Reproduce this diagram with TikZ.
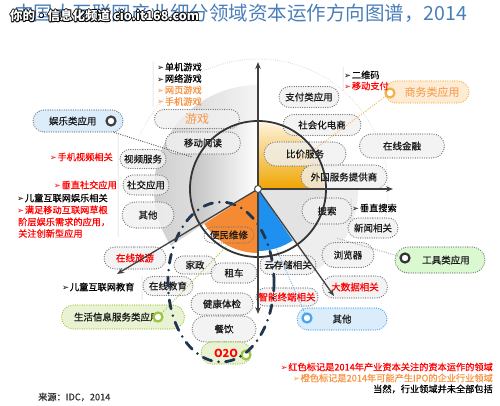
\documentclass[tikz,border=0pt]{standalone}
\usepackage{fontspec}
\usepackage{graphicx}
\setmainfont{Noto Sans CJK SC}
\newfontfamily\hv{Noto Sans CJK SC}[FakeBold=0.6]
\newfontfamily\dvs{DejaVu Sans}
\usetikzlibrary{shapes.misc,arrows.meta}
\definecolor{ttl}{HTML}{4A7EBB}
\definecolor{org}{HTML}{F79646}
\definecolor{rd}{HTML}{FF0000}
\definecolor{dotg}{HTML}{777777}
\definecolor{navy}{HTML}{1F3550}
\definecolor{blu}{HTML}{1E90F0}
\definecolor{orsec}{HTML}{F68A33}
\definecolor{gld}{HTML}{F0A500}
\definecolor{grn}{HTML}{9CC63B}
\definecolor{lgrn}{HTML}{E4F1C8}
\definecolor{lblu}{HTML}{D3E8FA}
\definecolor{lorg}{HTML}{FDE8C8}
\definecolor{borg}{HTML}{F5B24A}
\definecolor{bblu}{HTML}{48A4F0}
\newcommand\arr{{\dvs\scalebox{0.9}{➢}}\hspace{0.8pt}}
\newcommand\wmk[1]{%
\rlap{\color{black}\kern-0.8pt#1}%
\rlap{\color{black}\kern0.8pt#1}%
\rlap{\color{black}\raisebox{0.8pt}{#1}}%
\rlap{\color{black}\raisebox{-0.8pt}{#1}}%
\rlap{\color{black}\kern-0.6pt\raisebox{0.6pt}{#1}}%
\rlap{\color{black}\kern0.6pt\raisebox{0.6pt}{#1}}%
\rlap{\color{black}\kern-0.6pt\raisebox{-0.6pt}{#1}}%
\rlap{\color{black}\kern0.6pt\raisebox{-0.6pt}{#1}}%
{\color{white}#1}}
\begin{document}
\begin{tikzpicture}[x=1pt,y=-1pt,
  pill/.style={rounded rectangle, draw=dotg, line width=1.3pt, dash pattern=on 0pt off 2.3pt, line cap=round,
    fill=gray!12, fill opacity=0.8, text opacity=1, inner sep=0pt, text=black!90,
    font=\hv\fontsize{9.5}{11}\selectfont},
  lbl/.style={inner sep=0pt, font=\hv\fontsize{9.2}{11}\selectfont},
  ring/.style={circle, draw, line width=2.2pt, fill=white, minimum size=9pt, inner sep=0pt},
  axis/.style={draw=black!75, line width=1.3pt, -{Stealth[length=7pt,width=5.5pt]}},
  conn/.style={line width=1.3pt, dash pattern=on 0pt off 2.3pt, line cap=round},
  sep/.style={draw=gray!60, line width=1pt, dash pattern=on 0pt off 2pt, line cap=round}]
\path[use as bounding box, fill=white] (0,0) rectangle (500,406);
\coordinate (C) at (258,189);

% faint outer dotted arc
\draw[gray!40, line width=0.9pt, dash pattern=on 0pt off 2.2pt, line cap=round]
  (C) ++(-155:130) arc[start angle=-155, end angle=15, radius=130];

% sectors
\shade[left color=gray!42, right color=gray!8] (C) -- ++(147:104) arc[start angle=147, end angle=270, radius=104] -- cycle;
\fill[gray!13] (C) -- ++(0:100) arc[start angle=0, end angle=56, radius=100] -- cycle;
\fill[gray!22] (C) -- ++(0:68) arc[start angle=0, end angle=56, radius=68] -- cycle;
\shade[left color=gray!55, right color=white] (C) -- ++(147:68) arc[start angle=147, end angle=270, radius=68] -- cycle;
\shade[top color=gld!15, bottom color=gld] (C) -- ++(-90:66) arc[start angle=-90, end angle=0, radius=66] -- cycle;
\fill[blu] (C) -- ++(56:62) arc[start angle=56, end angle=90, radius=62] -- cycle;
\fill[orsec] (C) -- ++(90:64) arc[start angle=90, end angle=147, radius=64] -- cycle;

% separators
\draw[sep] (153,62) -- (153,107);
\draw[sep] (118,136) -- (118,236);
\draw[sep] (142,277) -- (142,300);
\draw[sep] (343,68) -- (343,90);
\draw[sep] (351,199) -- (351,219);

% capsules
\node[pill, minimum width=85, minimum height=19, text=org, font=\fontsize{12}{12}\selectfont] (yx) at (197,119) {游戏};
\node[pill, minimum width=75, minimum height=22] (ydyd) at (203,143) {移动阅读};
\node[pill, minimum width=46, minimum height=19] (spfw) at (143,159) {视频服务};
\node[pill, minimum width=46, minimum height=20] (sjyy) at (146,185) {社交应用};
\node[pill, minimum width=52, minimum height=26] (qtl) at (148,215) {其他};
\node[pill, minimum width=62, minimum height=22, text=rd] (zxly) at (135,258) {在线旅游};
\node[pill, minimum width=50, minimum height=19] (zxjy) at (168,286) {在线教育};
\node[pill, minimum width=42, minimum height=18] (jz) at (195,265) {家政};
\node[pill, minimum width=46, minimum height=20] (zc) at (234,273) {租车};
\node[pill, minimum width=62, minimum height=22] (jktj) at (222,304) {健康体检};
\node[pill, minimum width=64, minimum height=26] (cy) at (224,329) {餐饮};
\node[pill, minimum width=50, minimum height=16, fill=none] (bm) at (229,235) {便民维修};
\node[pill, minimum width=50, minimum height=22, fill=lgrn, draw=grn, text=rd, font=\fontsize{11}{11}\selectfont\bfseries] (o2o) at (226,353) {O2O};
\node[pill, minimum width=123, minimum height=24, fill=lgrn, draw=grn, text width=110, align=left] (shxx) at (123,317) {\hspace{6pt}生活信息服务类应用};
\node[pill, minimum width=90, minimum height=22, fill=lblu, text width=80, align=left] (yl) at (78,121) {\hspace{11pt}娱乐类应用};
\node[pill, minimum width=60, minimum height=21] (zf) at (309,97) {支付类应用};
\node[pill, minimum width=78, minimum height=21] (shds) at (322,125) {社会化电商};
\node[pill, minimum width=82, minimum height=24] (bj) at (305,154) {比价服务};
\node[pill, minimum width=86, minimum height=24] (wg) at (344,177) {外国服务提供商};
\node[pill, minimum width=85, minimum height=24] (zxjr) at (402,146) {在线金融};
\node[pill, minimum width=84, minimum height=22, fill=lorg, draw=borg, text=org, font=\fontsize{11}{11}\selectfont] (sw) at (427,92) {\hspace{10pt}商务类应用};
\node[pill, minimum width=50, minimum height=26] (ss) at (327,211) {搜索};
\node[pill, minimum width=50, minimum height=20] (xw) at (373,228) {新闻相关};
\node[pill, minimum width=52, minimum height=25] (llq) at (348,255) {浏览器};
\node[pill, minimum width=90, minimum height=26, fill=lgrn!80!green!60!white] (gj) at (440,260) {\hspace{12pt}工具类应用};
\node[pill, minimum width=65, minimum height=22, text=rd] (dsj) at (355,287) {大数据相关};
\node[pill, minimum width=56, minimum height=19] (ycc) at (288,265) {云存储相关};
\node[pill, minimum width=62, minimum height=18, text=rd] (znzd) at (287,297) {智能终端相关};
\node[pill, minimum width=90, minimum height=22, fill=lblu, draw=bblu] (qtb) at (342,319) {其他};

% rings
\node[ring, draw=black!75] (rY) at (111,121) {};
\node[ring, draw=borg] (rB) at (390,93) {};
\node[ring, draw=black!80] (rT) at (405,258) {};
\node[ring, draw=bblu] (rO) at (307,318) {};
\node[ring, draw=grn] (rG) at (158,317) {};
\node[ring, draw=grn] (rO2) at (246,355) {};

% connectors
\coordinate (eA) at (192,157);
\coordinate (eB) at (300,160);
\coordinate (eC) at (336,238);
\coordinate (eD) at (276,248);
\draw[conn, draw=black!65] (yl) -- (eA);
\draw[conn, draw=borg] (rB) -- (eB);
\draw[conn, draw=gray!65] (rT) -- (eC);
\draw[conn, draw=bblu!80] (rO) -- (eD);
\draw[conn, draw=grn] (rG) -- (bm.south);

% navy dash-dot loop
\draw[navy, line width=2.8pt, dash pattern=on 9pt off 7pt on 0pt off 7pt, line cap=round]
  (221,282) ellipse[x radius=53, y radius=80];

% circle and axes
\draw[black!80, line width=1.8pt] (C) circle[radius=68];
\coordinate (aU) at (258,62);
\coordinate (aR) at (393,189);
\coordinate (aD) at (258,314);
\coordinate (aL) at (117,274);
\coordinate (aRD) at (334,296);
\draw[axis] (C) -- (aU);
\draw[axis] (C) -- (aR);
\draw[axis] (C) -- (aD);
\draw[axis] (C) -- (aL);
\draw[axis] (C) -- (aRD);
\node[circle, draw=black!70, fill=white, line width=1pt, minimum size=7pt, inner sep=0pt] (ctr) at (C) {};

% side texts
\node[lbl, anchor=west] (g1) at (157,67) {\arr 单机游戏};
\node[lbl, anchor=west] (g2) at (157,78.5) {\arr 网络游戏};
\node[lbl, anchor=west, text=org] (g3) at (157,90) {\arr 网页游戏};
\node[lbl, anchor=west, text=org] (g4) at (157,101.5) {\arr 手机游戏};
\node[lbl, anchor=east, text=rd] (t1) at (113,157) {\arr 手机视频相关};
\node[lbl, anchor=east, text=rd] (t2) at (117,185) {\arr 垂直社交应用};
\node[lbl, anchor=west] (t3) at (17,198) {\arr 儿童互联网娱乐相关};
\node[lbl, anchor=west, text=rd] (t4) at (17,210) {\arr 满足移动互联网草根};
\node[lbl, anchor=west, text=rd] (t5) at (18,222) {阶层娱乐需求的应用，};
\node[lbl, anchor=west, text=rd] (t6) at (18,233.5) {关注创新型应用};
\node[lbl, anchor=west] (t7) at (62,287) {\arr 儿童互联网教育};
\node[lbl, anchor=west] (t8) at (344,75) {\arr 二维码};
\node[lbl, anchor=west, text=rd] (t9) at (344,86) {\arr 移动支付};
\node[lbl, anchor=west] (t10) at (352,208) {\arr 垂直搜索};

% legend
\node[lbl, anchor=east, text=rd] (lg1) at (493,367) {\arr 红色标记是2014年产业资本关注的资本运作的领域};
\node[lbl, anchor=east, text=org] (lg2) at (493,378) {\arr 橙色标记是2014年可能产生IPO的企业行业领域};
\node[lbl, anchor=east] (lg3) at (493,389) {当然，行业领域并未全部包括};
\node[lbl, anchor=west, text=black!80] (src) at (38,397) {来源：IDC，2014};

% title and watermark
\node[inner sep=0pt, anchor=west, text=ttl, font=\fontsize{19.5}{20}\selectfont] (title) at (14,13) {中国大互联网产业细分领域资本运作方向图谱，2014};
\node[inner sep=0pt, anchor=west, font=\fontsize{12.5}{13}\selectfont\bfseries] (wm) at (10,16) {\wmk{你的•信息化频道 cio.it168.com}};
\end{tikzpicture}
\end{document}
